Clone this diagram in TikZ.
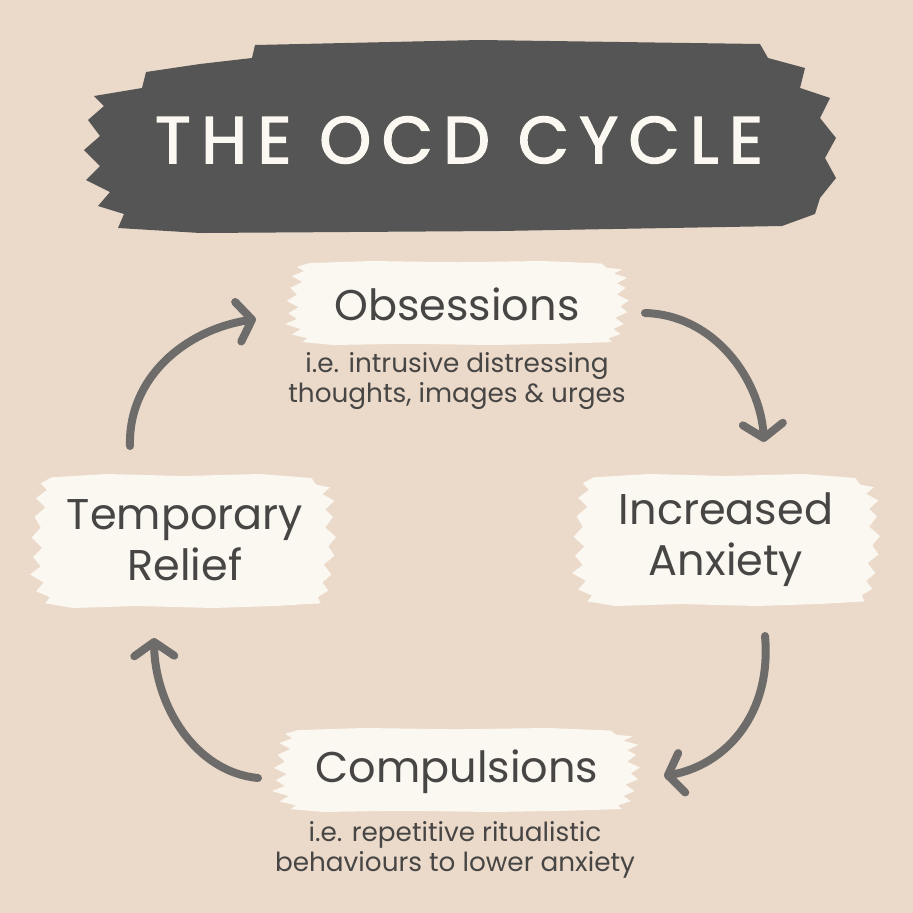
\documentclass[tikz,border=0pt]{standalone}
\usepackage{fontspec}
\setmainfont{Poppins}
\newfontfamily\titlefont[LetterSpace=16,FakeBold=2.2]{Poppins}
\usetikzlibrary{arrows.meta}
\definecolor{bg}{HTML}{EBDACA}
\definecolor{banner}{HTML}{555555}
\definecolor{blob}{HTML}{FBF7F1}
\definecolor{ink}{HTML}{474645}
\definecolor{arrowc}{HTML}{6D6C6B}
\newcommand\brushblob[4]{%
\begin{scope}[shift={(#1,#2)},xscale=#3,yscale=#4]
\fill[blob] (-0.86,-0.95) -- (-0.5,-1.0) -- (0,-0.97) -- (0.5,-1.0) -- (0.84,-0.94) -- (0.87,-0.84) -- (0.96,-0.8) -- (0.91,-0.7) -- (0.99,-0.6) -- (0.93,-0.47) -- (0.98,-0.36) -- (0.93,-0.2) -- (1.0,-0.06) -- (0.95,0.08) -- (0.99,0.22) -- (0.92,0.35) -- (0.97,0.5) -- (0.91,0.62) -- (0.95,0.74) -- (0.88,0.84) -- (0.9,0.93) -- (0.6,0.97) -- (0.2,1.0) -- (-0.3,0.97) -- (-0.72,1.0) -- (-0.9,0.93) -- (-0.87,0.84) -- (-0.96,0.75) -- (-0.91,0.62) -- (-1.0,0.5) -- (-0.93,0.38) -- (-0.98,0.24) -- (-0.92,0.1) -- (-0.99,-0.05) -- (-0.93,-0.2) -- (-0.97,-0.36) -- (-0.9,-0.5) -- (-0.96,-0.64) -- (-0.89,-0.76) -- (-0.93,-0.86) -- cycle;
\end{scope}}
\begin{document}
\begin{tikzpicture}[x=1pt,y=-1pt,
  titletext/.style={text=blob, font=\titlefont\fontsize{66}{70}\selectfont},
  lbl/.style={text=ink, font=\fontsize{43}{51}\selectfont, align=center, inner sep=0pt},
  subtext/.style={text=ink, font=\fontsize{26.3}{30}\selectfont, align=center, inner sep=0pt},
  cyc/.style={draw=arrowc, line width=8pt, line cap=round, line join=round, -{Straight Barb[length=14pt,width=40pt,round]}}]
\fill[bg] (0,0) rectangle (913,913);
\useasboundingbox (0,0) rectangle (913,913);
% title banner
\fill[banner] (255,45) -- (480,40) -- (760,44) -- (768,58) -- (805,68) -- (800,88) -- (830,98) -- (820,118) -- (836,138) -- (825,158) -- (836,178) -- (820,198) -- (815,214) -- (782,226) -- (500,231) -- (200,233) -- (118,228) -- (124,214) -- (98,206) -- (110,192) -- (86,180) -- (100,166) -- (84,150) -- (100,136) -- (88,120) -- (104,106) -- (94,96) -- (142,88) -- (146,72) -- (200,64) -- (252,58) -- cycle;
% brush blobs
\brushblob{457}{303}{172}{42}
\brushblob{726}{540}{154}{66}
\brushblob{183}{541}{153}{67}
\brushblob{456}{770}{184}{42}
% texts
\node[titletext] (title) at (459,140) {THE\hspace{28pt}OCD\hspace{28pt}CYCLE};
\node[lbl] (obs) at (457,304) {Obsessions};
\node[subtext] (obssub) at (457,381) {i.e. intrusive distressing\\thoughts, images \& urges};
\node[lbl] (anx) at (726,540) {Increased\\Anxiety};
\node[lbl] (rel) at (185,540) {Temporary\\Relief};
\node[lbl] (comp) at (457,772) {Compulsions};
\node[subtext] (compsub) at (455,850) {i.e. repetitive ritualistic\\behaviours to lower anxiety};
% arrow end points
\coordinate (a1s) at (645,313);
\coordinate (a1e) at (764,442);
\coordinate (a2s) at (765,636);
\coordinate (a2e) at (664,776);
\coordinate (a3s) at (258,778);
\coordinate (a3e) at (154,638);
\coordinate (a4s) at (130,446);
\coordinate (a4e) at (256,319);
\draw[cyc] (a1s) .. controls (715,315) and (760,380) .. (a1e);
\draw[cyc] (a2s) .. controls (772,715) and (725,765) .. (a2e);
\draw[cyc] (a3s) .. controls (195,772) and (155,705) .. (a3e);
\draw[cyc] (a4s) .. controls (128,378) and (185,330) .. (a4e);
\end{tikzpicture}
\end{document}
